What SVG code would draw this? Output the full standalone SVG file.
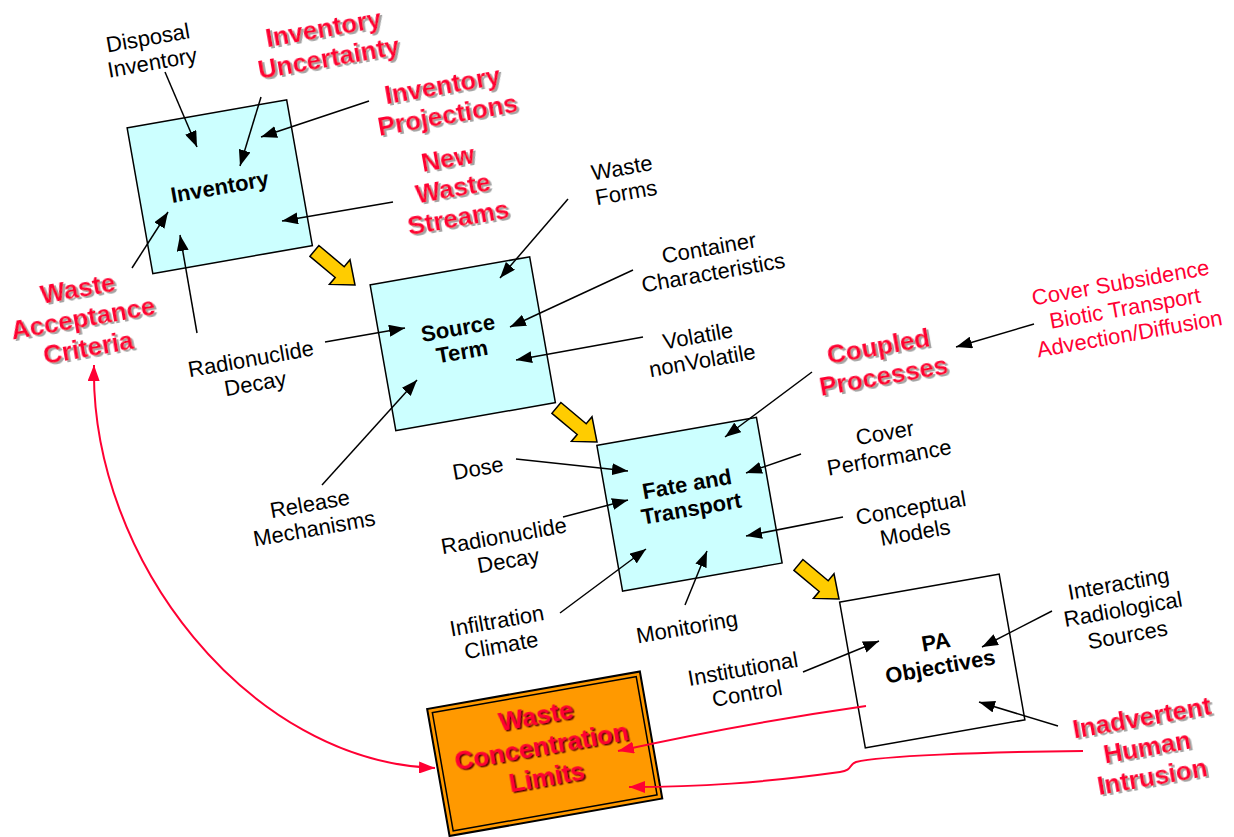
<svg xmlns="http://www.w3.org/2000/svg" xmlns:xlink="http://www.w3.org/1999/xlink" width="1234" height="837" viewBox="0 0 1234 837">
  <style>
    text { font-family: "Liberation Sans", Arial, sans-serif; text-anchor: middle; }
    .lbl { font-size: 22px; fill: #000; }
    .box-lbl { font-size: 22px; font-weight: bold; fill: #000; }
    .red { font-size: 22px; fill: #FF0033; }
    .red-b { font-size: 26px; font-weight: bold; fill: #FF0033; filter: url(#soft-shadow); }
    .limit-lbl { font-size: 26px; font-weight: bold; fill: #FF0033; filter: url(#dark-shadow); }
    .box { fill: #CCFFFF; stroke: #000; stroke-width: 1.5; }
    .box-plain { fill: #FFFFFF; stroke: #000; stroke-width: 1.5; }
    .limit-outer { fill: #FF9900; stroke: #000; stroke-width: 2; }
    .limit-inner { fill: none; stroke: #000; stroke-width: 1.5; }
    .flow { fill: #FFCC00; stroke: #000; stroke-width: 1.5; stroke-linejoin: miter; }
    .conn { stroke: #000; stroke-width: 1.5; fill: none; marker-end: url(#head-black); }
    .conn-red { stroke: #FF0033; stroke-width: 2; fill: none; marker-end: url(#head-red); }
  </style>
  <defs>
    <marker id="head-black" markerUnits="userSpaceOnUse" markerWidth="16" markerHeight="12" refX="16" refY="6" orient="auto">
      <path d="M0,0 L16,6 L0,12 z" fill="#000"/>
    </marker>
    <marker id="head-red" markerUnits="userSpaceOnUse" markerWidth="16" markerHeight="12" refX="16" refY="6" orient="auto-start-reverse">
      <path d="M0,0 L16,6 L0,12 z" fill="#FF0033"/>
    </marker>
    <filter id="soft-shadow" x="-10%" y="-20%" width="130%" height="150%">
      <feDropShadow dx="2" dy="2" stdDeviation="0.6" flood-color="#999999" flood-opacity="0.9"/>
    </filter>
    <filter id="dark-shadow" x="-10%" y="-20%" width="130%" height="150%">
      <feDropShadow dx="1.5" dy="1.5" stdDeviation="0.3" flood-color="#550000" flood-opacity="1"/>
    </filter>
    <!-- block arrow showing the flow from one stage to the next -->
    <path id="flow-arrow" class="flow" d="M0.9,-0.5 L26.2,20.7 L32,13.8 L37,39 L11.4,38.4 L17.2,31.5 L-8.1,10.3 z"/>
  </defs>

  <rect width="1234" height="837" fill="#FFFFFF"/>

  <!-- stage boxes -->
  <g id="inventory" transform="translate(219.75,186.75) rotate(-10)">
    <rect class="box" x="-81" y="-74" width="162" height="148"/>
    <text class="box-lbl"><tspan x="0" y="7.7">Inventory</tspan></text>
  </g>
  <g id="source-term" transform="translate(462.75,343.75) rotate(-10)">
    <rect class="box" x="-81" y="-74" width="162" height="148"/>
    <text class="box-lbl" transform="translate(-2,-4)"><tspan x="0" y="-4.8">Source</tspan><tspan x="0" y="19.2">Term</tspan></text>
  </g>
  <g id="fate-transport" transform="translate(689.5,504.2) rotate(-10)">
    <rect class="box" x="-81" y="-74" width="162" height="148"/>
    <text class="box-lbl" transform="translate(1,-8)"><tspan x="0" y="-4.8">Fate and</tspan><tspan x="0" y="20.2">Transport</tspan></text>
  </g>
  <g id="pa-objectives" transform="translate(932.25,661) rotate(-10)">
    <rect class="box-plain" x="-81" y="-74" width="162" height="148"/>
    <text class="box-lbl" transform="translate(7,-6)"><tspan x="0" y="-4.8">PA</tspan><tspan x="0" y="20.2">Objectives</tspan></text>
  </g>
  <g id="waste-concentration-limits" transform="translate(544.7,753.75) rotate(-10)">
    <rect class="limit-outer" x="-108" y="-64.5" width="216" height="129"/>
    <rect class="limit-inner" x="-103.5" y="-60" width="207" height="120"/>
    <text class="limit-lbl" transform="translate(-2,-8)"><tspan x="0" y="-21.9">Waste</tspan><tspan x="0" y="9.1">Concentration</tspan><tspan x="0" y="40.1">Limits</tspan></text>
  </g>

  <!-- stage-to-stage flow arrows -->
  <g id="flow-arrows">
    <use xlink:href="#flow-arrow" href="#flow-arrow" transform="translate(318,246)"/>
    <use xlink:href="#flow-arrow" href="#flow-arrow" transform="translate(560,403)"/>
    <use xlink:href="#flow-arrow" href="#flow-arrow" transform="translate(802,560)"/>
  </g>

  <!-- factor labels -->
  <g id="disposal-inventory" transform="translate(150,50) rotate(-10)">
    <text class="lbl"><tspan x="0" y="-4.8">Disposal</tspan><tspan x="0" y="20.2">Inventory</tspan></text>
  </g>
  <g id="inventory-uncertainty" transform="translate(326,43) rotate(-10)">
    <text class="red-b"><tspan x="0" y="-5.9">Inventory</tspan><tspan x="0" y="24.1">Uncertainty</tspan></text>
  </g>
  <g id="inventory-projections" transform="translate(445,100) rotate(-10)">
    <text class="red-b"><tspan x="0" y="-5.9">Inventory</tspan><tspan x="0" y="24.1">Projections</tspan></text>
  </g>
  <g id="new-waste-streams" transform="translate(453,188) rotate(-10)">
    <text class="red-b"><tspan x="0" y="-20.9">New</tspan><tspan x="0" y="9.1">Waste</tspan><tspan x="0" y="39.1">Streams</tspan></text>
  </g>
  <g id="waste-acceptance-criteria" transform="translate(83,318) rotate(-10)">
    <text class="red-b"><tspan x="0" y="-20.9">Waste</tspan><tspan x="0" y="9.1">Acceptance</tspan><tspan x="0" y="39.1">Criteria</tspan></text>
  </g>
  <g id="radionuclide-decay-1" transform="translate(253,371) rotate(-10)">
    <text class="lbl"><tspan x="0" y="-4.8">Radionuclide</tspan><tspan x="0" y="20.2">Decay</tspan></text>
  </g>
  <g id="release-mechanisms" transform="translate(312,516) rotate(-10)">
    <text class="lbl"><tspan x="0" y="-4.8">Release</tspan><tspan x="0" y="20.2">Mechanisms</tspan></text>
  </g>
  <g id="waste-forms" transform="translate(624,180) rotate(-10)">
    <text class="lbl"><tspan x="0" y="-4.8">Waste</tspan><tspan x="0" y="20.2">Forms</tspan></text>
  </g>
  <g id="container-characteristics" transform="translate(711,260) rotate(-10)">
    <text class="lbl"><tspan x="0" y="-4.8">Container</tspan><tspan x="0" y="20.2">Characteristics</tspan></text>
  </g>
  <g id="volatile" transform="translate(700,348) rotate(-10)">
    <text class="lbl"><tspan x="0" y="-4.8">Volatile</tspan><tspan x="0" y="20.2">nonVolatile</tspan></text>
  </g>
  <g id="cover-processes" transform="translate(1125,308) rotate(-10)">
    <text class="red"><tspan x="0" y="-18.3">Cover Subsidence</tspan><tspan x="0" y="7.7">Biotic Transport</tspan><tspan x="0" y="33.7">Advection/Diffusion</tspan></text>
  </g>
  <g id="coupled-processes" transform="translate(881,361) rotate(-10)">
    <text class="red-b"><tspan x="0" y="-5.9">Coupled</tspan><tspan x="0" y="24.1">Processes</tspan></text>
  </g>
  <g id="cover-performance" transform="translate(887,445) rotate(-10)">
    <text class="lbl"><tspan x="0" y="-4.8">Cover</tspan><tspan x="0" y="20.2">Performance</tspan></text>
  </g>
  <g id="dose" transform="translate(478,468) rotate(-10)">
    <text class="lbl"><tspan x="0" y="7.7">Dose</tspan></text>
  </g>
  <g id="radionuclide-decay-2" transform="translate(506,548) rotate(-10)">
    <text class="lbl"><tspan x="0" y="-4.8">Radionuclide</tspan><tspan x="0" y="20.2">Decay</tspan></text>
  </g>
  <g id="infiltration-climate" transform="translate(499,633) rotate(-10)">
    <text class="lbl"><tspan x="0" y="-4.8">Infiltration</tspan><tspan x="0" y="20.2">Climate</tspan></text>
  </g>
  <g id="monitoring" transform="translate(687,627) rotate(-10)">
    <text class="lbl"><tspan x="0" y="7.7">Monitoring</tspan></text>
  </g>
  <g id="conceptual-models" transform="translate(913,520) rotate(-10)">
    <text class="lbl"><tspan x="0" y="-4.8">Conceptual</tspan><tspan x="0" y="20.2">Models</tspan></text>
  </g>
  <g id="interacting-sources" transform="translate(1123,609) rotate(-10)">
    <text class="lbl"><tspan x="0" y="-18.3">Interacting</tspan><tspan x="0" y="7.7">Radiological</tspan><tspan x="0" y="33.7">Sources</tspan></text>
  </g>
  <g id="institutional-control" transform="translate(745,681) rotate(-10)">
    <text class="lbl"><tspan x="0" y="-4.8">Institutional</tspan><tspan x="0" y="20.2">Control</tspan></text>
  </g>
  <g id="inadvertent-intrusion" transform="translate(1147,747) rotate(-10)">
    <text class="red-b"><tspan x="0" y="-20.9">Inadvertent</tspan><tspan x="0" y="9.1">Human</tspan><tspan x="0" y="39.1">Intrusion</tspan></text>
  </g>

  <!-- connectors -->
  <g id="connectors">
    <line class="conn" x1="165" y1="72" x2="197" y2="147"/>
    <line class="conn" x1="261" y1="97" x2="240" y2="166"/>
    <line class="conn" x1="369" y1="101" x2="261" y2="137"/>
    <line class="conn" x1="393" y1="202" x2="282" y2="221"/>
    <line class="conn" x1="132" y1="268" x2="168" y2="212"/>
    <line class="conn" x1="197" y1="333" x2="180" y2="235"/>
    <line class="conn" x1="325" y1="342" x2="405" y2="328"/>
    <line class="conn" x1="322" y1="485" x2="417" y2="380"/>
    <line class="conn" x1="568" y1="199" x2="500" y2="278"/>
    <line class="conn" x1="633" y1="270" x2="510" y2="327"/>
    <line class="conn" x1="643" y1="337" x2="516" y2="360"/>
    <line class="conn" x1="812" y1="372" x2="725" y2="437"/>
    <line class="conn" x1="1034" y1="324" x2="956" y2="347"/>
    <line class="conn" x1="516" y1="459" x2="628" y2="471"/>
    <line class="conn" x1="563" y1="517" x2="628" y2="500"/>
    <line class="conn" x1="560" y1="613" x2="646" y2="549"/>
    <line class="conn" x1="685" y1="605" x2="707" y2="551"/>
    <line class="conn" x1="801" y1="454" x2="746" y2="473"/>
    <line class="conn" x1="843" y1="517" x2="746" y2="536"/>
    <line class="conn" x1="803" y1="672" x2="879" y2="641"/>
    <line class="conn" x1="1052" y1="611" x2="982" y2="647"/>
    <line class="conn" x1="1058" y1="726" x2="979" y2="702"/>
    <path class="conn-red" d="M866,706 Q740,724 618,751"/>
    <path class="conn-red" d="M1083,751 C980,752 880,756 856,762 C848,765 853,770 840,772 C760,783 700,787 629,787"/>
    <path class="conn-red" style="marker-start:url(#head-red)" d="M94,365 C90,560 250,762 435,768"/>
  </g>
</svg>
